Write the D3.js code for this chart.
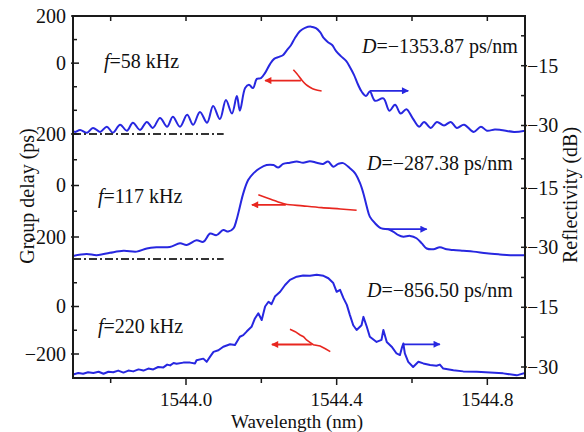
<!DOCTYPE html>
<html><head><meta charset="utf-8">
<script src="https://cdn.jsdelivr.net/npm/d3@7"></script>
<style>body{margin:0;background:#fff;} text{font-family:"Liberation Serif","Times New Roman",serif;fill:#111;}</style>
</head><body><svg id="c" width="584" height="432"></svg>
<script>
// ---------------- data ----------------
const wavelengthDomain = [1543.7, 1544.9];
const xTicks = [1543.8, 1544.0, 1544.2, 1544.4, 1544.6, 1544.8];
const xTickLabels = [1544.0, 1544.4, 1544.8];
const freqLabels = ["58", "117", "220"];
const dispersionLabels = ["\u22121353.87", "\u2212287.38", "\u2212856.50"];
const gdTicks = [[200, 100, 0, -100, -200], [200, 100, 0, -100, -200], [100, 0, -100, -200]];
const gdLabelVals = [[200, 0], [200, 0, -200], [0, -200]];
const gdLabelText = [["200", "0"], ["200", "0", "-200"], ["0", "\u2212200"]];
const rfTicks = [-7.5, -15, -22.5, -30];
const rfLabelVals = [-15, -30];
const rfLabelText = ["\u221215", "\u221230"];

// reflectivity (dB) vs wavelength (nm)
const refl1 = [[1543.700,-31.3],[1543.705,-31.6],[1543.719,-31.1],[1543.737,-31.8],[1543.753,-30.6],[1543.772,-31.6],
 [1543.790,-30.3],[1543.806,-31.8],[1543.825,-29.8],[1543.843,-31.3],[1543.859,-29.3],[1543.878,-31.1],[1543.896,-29.1],
 [1543.912,-30.6],[1543.931,-28.1],[1543.950,-30.3],[1543.965,-27.8],[1543.984,-30.3],[1544.003,-27.3],[1544.019,-29.8],
 [1544.037,-26.6],[1544.056,-29.3],[1544.072,-25.1],[1544.090,-28.4],[1544.106,-23.6],[1544.122,-27.0],[1544.135,-22.6],
 [1544.143,-26.3],[1544.157,-20.6],[1544.167,-19.8],[1544.178,-20.6],[1544.188,-18.3],[1544.199,-18.1],[1544.210,-16.8],
 [1544.223,-14.6],[1544.234,-13.3],[1544.247,-12.8],[1544.258,-12.3],[1544.268,-11.1],[1544.279,-9.8],[1544.289,-8.1],
 [1544.303,-6.3],[1544.316,-5.5],[1544.332,-5.2],[1544.345,-5.6],[1544.356,-6.6],[1544.366,-8.1],[1544.377,-9.1],
 [1544.388,-9.8],[1544.398,-11.3],[1544.411,-12.6],[1544.425,-13.8],[1544.435,-15.3],[1544.446,-17.3],[1544.456,-19.6],
 [1544.467,-21.6],[1544.478,-22.6],[1544.488,-21.5],[1544.502,-23.8],[1544.524,-23.2],[1544.540,-26.3],[1544.555,-24.8],
 [1544.570,-27.0],[1544.585,-25.9],[1544.602,-28.2],[1544.619,-30.3],[1544.632,-29.1],[1544.650,-30.6],[1544.666,-29.1],
 [1544.685,-30.0],[1544.703,-29.1],[1544.719,-30.6],[1544.738,-29.8],[1544.764,-31.6],[1544.783,-30.3],[1544.799,-31.3],
 [1544.820,-31.0],[1544.836,-31.1],[1544.871,-31.6],[1544.900,-31.3]];
const refl2 = [[1543.700,-32.2],[1543.736,-31.7],[1543.763,-32.0],[1543.798,-31.4],[1543.834,-30.9],[1543.869,-31.1],
 [1543.896,-30.3],[1543.922,-30.0],[1543.957,-29.9],[1543.984,-29.0],[1544.002,-29.4],[1544.028,-28.2],[1544.046,-28.6],
 [1544.064,-26.5],[1544.081,-26.9],[1544.099,-25.6],[1544.112,-26.0],[1544.126,-25.2],[1544.134,-23.1],[1544.143,-19.7],
 [1544.152,-16.3],[1544.165,-12.9],[1544.179,-11.2],[1544.196,-9.9],[1544.214,-9.1],[1544.232,-9.1],[1544.245,-9.7],
 [1544.258,-8.8],[1544.276,-8.5],[1544.294,-8.2],[1544.311,-8.5],[1544.329,-8.1],[1544.347,-8.5],[1544.364,-8.8],
 [1544.377,-8.2],[1544.391,-9.5],[1544.404,-8.8],[1544.417,-8.6],[1544.435,-9.9],[1544.449,-11.2],[1544.462,-13.7],
 [1544.471,-16.3],[1544.480,-19.7],[1544.488,-22.2],[1544.502,-23.9],[1544.519,-25.2],[1544.537,-25.4],[1544.550,-26.0],
 [1544.564,-26.9],[1544.577,-27.3],[1544.595,-27.1],[1544.612,-27.7],[1544.626,-29.0],[1544.639,-30.3],[1544.657,-30.5],
 [1544.674,-30.0],[1544.692,-30.5],[1544.710,-30.7],[1544.736,-30.9],[1544.763,-31.1],[1544.798,-31.5],[1544.833,-31.8],
 [1544.860,-32.0],[1544.900,-32.0]];
const refl3 = [[1543.700,-31.9],[1543.714,-31.5],[1543.727,-31.7],[1543.740,-31.3],[1543.754,-31.5],[1543.768,-31.2],
 [1543.781,-31.7],[1543.794,-31.2],[1543.807,-31.3],[1543.820,-30.9],[1543.834,-31.4],[1543.847,-30.9],[1543.860,-31.1],
 [1543.874,-30.6],[1543.887,-30.9],[1543.900,-30.4],[1543.913,-30.6],[1543.926,-30.0],[1543.940,-30.1],[1543.950,-29.4],
 [1543.958,-29.6],[1543.967,-29.0],[1543.975,-29.2],[1543.993,-28.9],[1544.011,-28.9],[1544.024,-29.1],[1544.028,-28.3],
 [1544.046,-27.9],[1544.055,-28.7],[1544.064,-27.4],[1544.073,-26.2],[1544.086,-25.8],[1544.099,-24.9],[1544.108,-24.6],
 [1544.117,-24.3],[1544.130,-24.5],[1544.143,-22.4],[1544.152,-22.0],[1544.161,-21.1],[1544.174,-19.9],[1544.183,-17.8],
 [1544.192,-16.5],[1544.201,-18.2],[1544.210,-14.8],[1544.219,-13.6],[1544.227,-14.2],[1544.236,-12.3],[1544.250,-11.1],
 [1544.263,-9.4],[1544.276,-8.1],[1544.294,-7.3],[1544.311,-7.0],[1544.329,-7.1],[1544.347,-6.8],[1544.365,-7.1],
 [1544.378,-7.7],[1544.391,-8.9],[1544.400,-11.1],[1544.409,-10.6],[1544.418,-12.7],[1544.427,-14.4],[1544.435,-16.9],
 [1544.444,-19.5],[1544.453,-20.7],[1544.466,-19.5],[1544.471,-17.4],[1544.480,-19.9],[1544.488,-22.4],[1544.506,-23.7],
 [1544.519,-23.2],[1544.524,-20.7],[1544.533,-23.7],[1544.546,-24.9],[1544.559,-26.6],[1544.568,-27.0],[1544.573,-25.2],
 [1544.577,-24.1],[1544.581,-26.6],[1544.590,-28.7],[1544.603,-30.0],[1544.617,-28.7],[1544.630,-29.1],[1544.648,-29.5],
 [1544.665,-29.7],[1544.674,-29.4],[1544.683,-30.4],[1544.710,-30.8],[1544.736,-31.1],[1544.772,-31.2],[1544.807,-31.4],
 [1544.842,-31.6],[1544.878,-32.1],[1544.900,-31.5]];

// group delay (ps) vs wavelength (nm)
const delay1 = [[1544.285,-28],[1544.295,-46],[1544.307,-71],[1544.318,-90],[1544.329,-102],[1544.342,-112],[1544.360,-118]];
const delay2 = [[1544.192,-36],[1544.225,-53],[1544.263,-72],[1544.310,-79],[1544.360,-86],[1544.410,-91],[1544.453,-96]];
const delay3 = [[1544.276,-96],[1544.290,-106],[1544.303,-120],[1544.312,-127],[1544.320,-141],[1544.330,-152],
 [1544.338,-161],[1544.356,-166],[1544.370,-178],[1544.383,-190]];

// axis-indicator arrows: [wavelength start, wavelength end, value]
const delayArrows = [[1544.305, 1544.210, -74], [1544.265, 1544.175, -75], [1544.334, 1544.228, -160]];
const reflArrows = [[1544.488, 1544.590, -21.3], [1544.528, 1544.639, -25.4], [1544.577, 1544.674, -24.3]];
const separatorVals = [200, 200];           // group-delay level of separators in panels 2 and 3
const separatorSpan = [1543.7, 1544.1];

// ---------------- drawing ----------------
const svg = d3.select("#c");
const L = 73, R = 525, T = 16, B = 378;
const blue = "#2727e0", red = "#e8261f", ink = "#1a1a1a";
const x = d3.scaleLinear().domain(wavelengthDomain).range([L, R]);
const gdRanges = [[110.3, 16], [237, 134], [354, 259]];
const rfRanges = [[125.5, 65.7], [247.3, 188.3], [367, 307.3]];
const gd = gdRanges.map(r => d3.scaleLinear().domain([-200, 200]).range(r));
const rf = rfRanges.map(r => d3.scaleLinear().domain([-30, -15]).range(r));

const defs = svg.append("defs");
defs.append("clipPath").attr("id", "clip").append("rect").attr("x", L).attr("y", T).attr("width", R - L).attr("height", B - T);
[["ah-red", red], ["ah-blue", blue]].forEach(([id, c]) => {
  defs.append("marker").attr("id", id).attr("viewBox", "0 0 10 10").attr("refX", 9).attr("refY", 5)
    .attr("markerWidth", 10).attr("markerHeight", 7).attr("markerUnits", "userSpaceOnUse").attr("orient", "auto")
    .append("path").attr("d", "M0,0L10,5L0,10Z").attr("fill", c);
});

const plot = svg.append("g").attr("clip-path", "url(#clip)");
const refls = [refl1, refl2, refl3];
const delays = [delay1, delay2, delay3];
const curves = [d3.curveCatmullRom.alpha(0.5), d3.curveCatmullRom.alpha(0.5), d3.curveLinear];

// separators (dash-dot)
separatorVals.forEach((v, i) => {
  const s = gd[i + 1];
  svg.append("line").attr("x1", x(separatorSpan[0])).attr("x2", x(separatorSpan[1]))
    .attr("y1", s(v)).attr("y2", s(v)).attr("stroke", "#333").attr("stroke-width", 2)
    .attr("stroke-dasharray", "8,3,2,3");
});

refls.forEach((d, i) => {
  plot.append("path").datum(d).attr("fill", "none").attr("stroke", blue).attr("stroke-width", 2)
    .attr("stroke-linejoin", "round")
    .attr("d", d3.line().x(p => x(p[0])).y(p => rf[i](p[1])).curve(curves[i]));
});
delays.forEach((d, i) => {
  plot.append("path").datum(d).attr("fill", "none").attr("stroke", red).attr("stroke-width", 1.6)
    .attr("d", d3.line().x(p => x(p[0])).y(p => gd[i](p[1])).curve(i === 2 ? d3.curveLinear : d3.curveCatmullRom));
});
delayArrows.forEach((a, i) => {
  svg.append("line").attr("x1", x(a[0])).attr("x2", x(a[1])).attr("y1", gd[i](a[2])).attr("y2", gd[i](a[2]))
    .attr("stroke", red).attr("stroke-width", 1.8).attr("marker-end", "url(#ah-red)");
});
reflArrows.forEach((a, i) => {
  svg.append("line").attr("x1", x(a[0])).attr("x2", x(a[1])).attr("y1", rf[i](a[2])).attr("y2", rf[i](a[2]))
    .attr("stroke", blue).attr("stroke-width", 1.8).attr("marker-end", "url(#ah-blue)");
});

// frame
svg.append("rect").attr("x", L).attr("y", T).attr("width", R - L).attr("height", B - T)
  .attr("fill", "none").attr("stroke", ink).attr("stroke-width", 2);

// bottom / top ticks
xTicks.forEach(t => {
  const major = xTickLabels.includes(t);
  svg.append("line").attr("x1", x(t)).attr("x2", x(t)).attr("y1", B).attr("y2", B + (major ? 7 : 5)).attr("stroke", ink).attr("stroke-width", 1.5);
  svg.append("line").attr("x1", x(t)).attr("x2", x(t)).attr("y1", T).attr("y2", T + 5).attr("stroke", ink).attr("stroke-width", 1.5);
});
xTickLabels.forEach(t => {
  svg.append("text").attr("x", x(t)).attr("y", 405.5).attr("text-anchor", "middle").attr("font-size", 19).text(t.toFixed(1));
});

// left ticks per panel
gd.forEach((s, i) => {
  gdTicks[i].forEach(v => {
    const major = gdLabelVals[i].includes(v);
    svg.append("line").attr("x1", L - (major ? 2 : 0)).attr("x2", L + (major ? 6 : 4)).attr("y1", s(v)).attr("y2", s(v))
      .attr("stroke", ink).attr("stroke-width", 1.5);
  });
  gdLabelVals[i].forEach((v, j) => {
    svg.append("text").attr("x", 66).attr("y", s(v)).attr("dy", "0.34em").attr("text-anchor", "end")
      .attr("font-size", 20).text(gdLabelText[i][j]);
  });
});
// right ticks per panel
rf.forEach((s, i) => {
  rfTicks.forEach(v => {
    const major = rfLabelVals.includes(v);
    svg.append("line").attr("x1", R - 4).attr("x2", R + (major ? 2 : 0)).attr("y1", s(v)).attr("y2", s(v))
      .attr("stroke", ink).attr("stroke-width", 1.5);
  });
  rfLabelVals.forEach((v, j) => {
    svg.append("text").attr("x", 527).attr("y", s(v)).attr("dy", "0.34em").attr("font-size", 20).text(rfLabelText[j]);
  });
});

// in-plot annotations
const fPos = [[104, 68], [98, 203], [98, 333]];
const dPos = [[362, 53], [367, 170], [367, 297]];
freqLabels.forEach((f, i) => {
  const t = svg.append("text").attr("x", fPos[i][0]).attr("y", fPos[i][1]).attr("font-size", 20);
  t.append("tspan").attr("font-style", "italic").text("f");
  t.append("tspan").text("=" + f + " kHz");
});
dispersionLabels.forEach((d, i) => {
  const t = svg.append("text").attr("x", dPos[i][0]).attr("y", dPos[i][1]).attr("font-size", 20);
  t.append("tspan").attr("font-style", "italic").text("D");
  t.append("tspan").text("=" + d + " ps/nm");
});

// axis titles
svg.append("text").attr("transform", "translate(34,196) rotate(-90)").attr("text-anchor", "middle")
  .attr("font-size", 20).text("Group delay (ps)");
svg.append("text").attr("transform", "translate(577,195) rotate(-90)").attr("text-anchor", "middle")
  .attr("font-size", 20).text("Reflectivity (dB)");
svg.append("text").attr("x", 297).attr("y", 427.5).attr("text-anchor", "middle").attr("font-size", 19).text("Wavelength (nm)");
</script></body></html>
